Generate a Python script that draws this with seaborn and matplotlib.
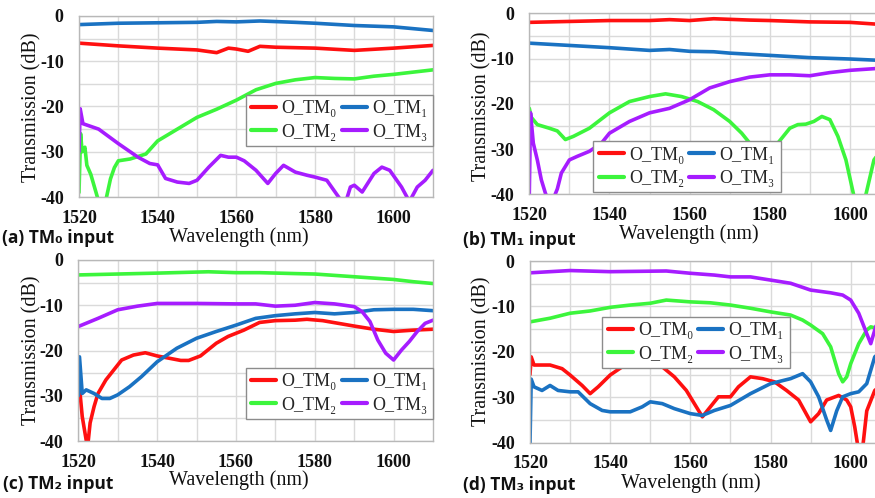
import numpy as np
import pandas as pd
import matplotlib
matplotlib.use("Agg")
import matplotlib.pyplot as plt
from matplotlib.lines import Line2D
import seaborn as sns

# ---------------- data ----------------
modes = ["O_TM0", "O_TM1", "O_TM2", "O_TM3"]
mode_labels = ["O_TM\u2080", "O_TM\u2081", "O_TM\u2082", "O_TM\u2083"]
colors = ["#ff1010", "#1a72c2", "#3cf53c", "#a61cff"]
x_ticks = [1520, 1540, 1560, 1580, 1600]
y_ticks = [-40, -30, -20, -10, 0]
captions = ["(a) TM\u2080 input", "(b) TM\u2081 input", "(c) TM\u2082 input", "(d) TM\u2083 input"]

# panel (a): TM0 input
a_wl_tm0 = [1520, 1530, 1540, 1550, 1555, 1558, 1560, 1563, 1566, 1570, 1580, 1590, 1600, 1610]
a_tm0 = [-6.0, -6.6, -7.1, -7.5, -8.1, -7.1, -7.3, -7.8, -6.7, -6.9, -7.1, -7.6, -7.1, -6.5]
a_wl_tm1 = [1520, 1530, 1540, 1550, 1555, 1560, 1566, 1575, 1580, 1590, 1600, 1605, 1610]
a_tm1 = [-1.9, -1.6, -1.5, -1.4, -1.2, -1.3, -1.1, -1.4, -1.6, -2.1, -2.4, -2.8, -3.2]
a_wl_tm2 = [1520, 1520.4, 1520.8, 1521.5, 1522, 1523, 1524, 1525, 1526, 1527, 1528, 1529, 1530,
            1533, 1537, 1540, 1545, 1550, 1555, 1560, 1565, 1570, 1575, 1580, 1585, 1590, 1595,
            1600, 1605, 1610]
a_tm2 = [-39, -26, -30, -29, -33, -35, -38, -41, -43, -40, -36, -33.5, -32, -31.6, -30.5, -27.6,
         -25, -22.4, -20.6, -18.6, -16.3, -14.9, -14.1, -13.6, -13.8, -13.9, -13.3, -12.9, -12.4,
         -11.9]
a_wl_tm3 = [1520, 1520.3, 1521, 1525, 1530, 1533, 1535, 1538, 1540, 1542, 1545, 1548, 1550, 1553,
            1556, 1558, 1560, 1562, 1565, 1568, 1570, 1572, 1575, 1578, 1580, 1583, 1586, 1587.5,
            1589, 1590, 1592, 1595, 1597, 1599, 1602, 1604, 1606, 1608, 1610]
a_tm3 = [-30, -20.5, -23.8, -25, -28.2, -30, -31.2, -32.6, -32.9, -35.9, -36.7, -37, -36.3, -33.4,
         -30.8, -31.2, -31.2, -32, -34.1, -37, -34.8, -33, -34.5, -35.2, -35.6, -36.3, -40, -42,
         -37.8, -37.4, -38.9, -34.8, -33.4, -34.1, -37.8, -41, -37.8, -36.3, -34.1]

# panel (b): TM1 input
b_wl_tm0 = [1520, 1530, 1540, 1550, 1555, 1560, 1566, 1575, 1580, 1590, 1600, 1605, 1610]
b_tm0 = [-2.0, -1.8, -1.6, -1.6, -1.4, -1.6, -1.2, -1.5, -1.6, -1.9, -2.0, -2.3, -2.6]
b_wl_tm1 = [1520, 1530, 1540, 1550, 1555, 1560, 1566, 1570, 1580, 1590, 1600, 1610]
b_tm1 = [-6.6, -7.1, -7.6, -8.2, -8.0, -8.4, -8.5, -8.8, -9.3, -9.8, -10.1, -10.5]
b_wl_tm2 = [1520, 1520.5, 1522, 1525, 1527, 1529, 1531, 1535, 1540, 1545, 1550, 1554, 1558, 1562,
            1566, 1570, 1573, 1575, 1578, 1580, 1582, 1585, 1587, 1589, 1591, 1593, 1595, 1597,
            1599, 1601, 1602.5, 1604, 1606, 1608, 1610]
b_tm2 = [-21, -23, -24.6, -25.4, -26, -27.9, -27.2, -25.4, -22, -19.5, -18.4, -17.8, -18.4, -19.5,
         -21.3, -23.9, -26.5, -28.7, -30.5, -30.1, -28.7, -25.4, -24.6, -24.5, -23.9, -22.8, -23.5,
         -27.2, -32.4, -40.4, -43, -40, -32.4, -30, -29]
b_wl_tm3 = [1520, 1520.3, 1521, 1522, 1523, 1524, 1525, 1526, 1527, 1528, 1530, 1532, 1535, 1538,
            1540, 1545, 1550, 1555, 1560, 1565, 1570, 1575, 1580, 1585, 1590, 1595, 1600, 1605, 1610]
b_tm3 = [-40, -22, -28.7, -32.4, -36.8, -39.7, -42, -41, -38.8, -35.3, -32.4, -31.6, -30.5, -28.7,
         -26.5, -23.9, -22, -21, -19.1, -16.5, -15.1, -14.1, -13.6, -13.6, -13.8, -13.1, -12.6,
         -12.3, -12.0]

# panel (c): TM2 input
c_wl_tm0 = [1520, 1520.5, 1521, 1522, 1522.4, 1523, 1524, 1525, 1527, 1529, 1531, 1534, 1537, 1540,
            1543, 1546, 1548, 1551, 1555, 1558, 1562, 1566, 1570, 1575, 1578, 1582, 1586, 1590,
            1595, 1600, 1605, 1610]
c_tm0 = [-23, -30, -34.6, -39.8, -41, -36, -32.4, -29.5, -26.5, -24.3, -22.1, -21, -20.5, -21.2,
         -21.7, -22.2, -22.2, -21.2, -18.4, -16.9, -15.5, -13.8, -13.4, -13.3, -13.1, -13.4, -14,
         -14.6, -15.3, -15.8, -15.5, -15.3]
c_wl_tm1 = [1520, 1520.3, 1521, 1522, 1524, 1526, 1528, 1530, 1533, 1536, 1540, 1545, 1550, 1555,
            1560, 1565, 1570, 1575, 1580, 1585, 1590, 1595, 1600, 1605, 1610]
c_tm1 = [-30, -21.4, -29.5, -28.7, -29.5, -30.6, -30.6, -29.8, -28, -25.8, -22.5, -19.5, -17.3,
         -15.8, -14.4, -12.9, -12.3, -11.9, -11.6, -11.9, -11.6, -11, -10.9, -10.9, -11.2]
c_wl_tm2 = [1520, 1530, 1540, 1553, 1560, 1566, 1575, 1580, 1590, 1600, 1605, 1610]
c_tm2 = [-3.3, -3.1, -2.9, -2.6, -2.8, -2.8, -3.0, -3.1, -3.7, -4.3, -4.8, -5.2]
c_wl_tm3 = [1520, 1525, 1530, 1535, 1540, 1550, 1560, 1565, 1570, 1575, 1580, 1585, 1590, 1592,
            1594, 1596, 1598, 1600, 1602, 1604, 1606, 1608, 1610]
c_tm3 = [-14.7, -12.9, -11, -10.2, -9.6, -9.6, -9.7, -9.7, -10.2, -10, -9.4, -9.7, -10.3, -11.4,
         -13.6, -17.7, -20.6, -22.1, -19.9, -18, -15.8, -14, -13.3]

# panel (d): TM3 input
d_wl_tm0 = [1520, 1520.3, 1521, 1525, 1528, 1530, 1533, 1535, 1537, 1540, 1543, 1547, 1550, 1553,
            1556, 1559, 1561, 1563, 1565, 1567, 1570, 1572, 1575, 1578, 1581, 1584, 1587, 1590,
            1592, 1594, 1597, 1599, 1600, 1601, 1602, 1603, 1604, 1606, 1608, 1610]
d_tm0 = [-25, -21.1, -22.9, -22.9, -23.7, -25.1, -27.4, -29.2, -27.7, -25.1, -23.3, -22.9, -22.6,
         -23.3, -25.5, -28.5, -31.4, -34.3, -32.1, -29.9, -29.9, -27.7, -25.5, -25.9, -26.6, -28.5,
         -30.6, -35.4, -33.6, -30.6, -29.6, -30.6, -32.1, -36.5, -42, -41, -33, -28.5, -27, -26]
d_wl_tm1 = [1520, 1520.3, 1521, 1523, 1525, 1527, 1530, 1532, 1535, 1538, 1540, 1545, 1548, 1550,
            1553, 1556, 1560, 1563, 1566, 1570, 1575, 1580, 1585, 1588, 1590, 1592, 1594, 1595,
            1596.5, 1598, 1600, 1602, 1604, 1606, 1608, 1610]
d_tm1 = [-40, -26, -27.7, -28.5, -27.4, -28.5, -28.8, -28.8, -31.4, -32.9, -33.2, -33.2, -32.1,
         -31, -31.4, -32.5, -33.6, -34, -32.9, -31.8, -29.2, -27, -25.9, -24.8, -26.6, -29.9, -35,
         -37.3, -33, -29.9, -29.2, -28.8, -27, -21.1, -19.6, -19]
d_wl_tm2 = [1520, 1525, 1530, 1535, 1540, 1545, 1550, 1554, 1560, 1565, 1570, 1575, 1580, 1585,
            1588, 1590, 1593, 1595, 1597, 1598, 1599, 1600, 1602, 1604, 1605, 1607, 1610]
d_tm2 = [-13.4, -12.6, -11.5, -11, -10.2, -9.7, -9.3, -8.6, -9, -9.2, -9.7, -10.4, -11.2, -11.9,
         -13, -14.1, -16, -18.9, -24.8, -26.6, -25.5, -22.6, -18.2, -15.2, -14.5, -14.9, -15]
d_wl_tm3 = [1520, 1530, 1540, 1554, 1560, 1566, 1570, 1575, 1580, 1585, 1590, 1595, 1598, 1600,
            1602, 1604, 1605, 1606, 1607, 1608, 1610]
d_tm3 = [-2.6, -2.1, -2.35, -2.2, -2.7, -3.1, -3.5, -3.5, -4.2, -4.9, -6.4, -7.0, -7.5, -8.6,
         -11.5, -16, -18.2, -15.2, -12.3, -10.8, -10]

panels = [
    [(a_wl_tm0, a_tm0), (a_wl_tm1, a_tm1), (a_wl_tm2, a_tm2), (a_wl_tm3, a_tm3)],
    [(b_wl_tm0, b_tm0), (b_wl_tm1, b_tm1), (b_wl_tm2, b_tm2), (b_wl_tm3, b_tm3)],
    [(c_wl_tm0, c_tm0), (c_wl_tm1, c_tm1), (c_wl_tm2, c_tm2), (c_wl_tm3, c_tm3)],
    [(d_wl_tm0, d_tm0), (d_wl_tm1, d_tm1), (d_wl_tm2, d_tm2), (d_wl_tm3, d_tm3)],
]

# ---------------- style ----------------
sns.set_theme(style="white")
plt.rcParams["font.family"] = ["Liberation Serif", "DejaVu Serif"]
plt.rcParams["axes.unicode_minus"] = False

W, H = 875, 498
fig = plt.figure(figsize=(W / 100, H / 100), dpi=100)

# axes boxes in pixels: left, top, right, bottom
boxes = [(79, 16, 433, 197), (529.3, 13.3, 890, 194.3),
         (78.3, 260, 433, 441), (530, 261, 890.8, 442.7)]
legend_anchor = [("upper right", (1.0, 0.564)), ("upper left", (0.177, 0.294)),
                 ("upper right", (1.0, 0.403)), ("upper left", (0.2, 0.692))]
ylabel_pos = [(32, 107), (482, 106), (32, 350), (482, 351)]
xlabel_pos = [(239, 242), (689, 239), (239, 485), (691, 488)]
caption_pos = [(2, 243), (463, 245), (3, 489), (463, 490)]

palette = dict(zip(modes, colors))

for i, series in enumerate(panels):
    l, t, r, b = boxes[i]
    ax = fig.add_axes([l / W, 1 - b / H, (r - l) / W, (b - t) / H])
    frames = []
    for m, (wl, tr) in zip(modes, series):
        frames.append(pd.DataFrame({"wl": wl, "T": tr, "mode": m}))
    df = pd.concat(frames, ignore_index=True)
    sns.lineplot(data=df, x="wl", y="T", hue="mode", hue_order=modes, palette=palette,
                 estimator=None, linewidth=2.6, legend=False, ax=ax)
    ax.set_xlim(1520, 1610)
    ax.set_ylim(-40, 0)
    ax.set_xticks(x_ticks)
    ax.set_xticks([1530, 1550, 1570, 1590], minor=True)
    ax.set_yticks(y_ticks)
    ax.set_yticks([-35, -25, -15, -5], minor=True)
    ax.set_yticklabels([str(v) for v in y_ticks])
    ax.grid(which="both", color="#dadada", linewidth=1.0)
    ax.set_axisbelow(True)
    ax.tick_params(which="both", length=0)
    ax.tick_params(axis="x", pad=9)
    ax.tick_params(axis="y", pad=11)
    for lab in ax.get_xticklabels() + ax.get_yticklabels():
        lab.set_fontsize(13)
        lab.set_fontweight("bold")
        lab.set_color("#111111")
    for sp in ax.spines.values():
        sp.set_color("#b8b8b8")
        sp.set_linewidth(1.0)
    ax.set_xlabel("")
    ax.set_ylabel("")

    handles = [Line2D([0], [0], color=c, lw=3) for c in colors]
    order = [0, 2, 1, 3]
    loc, anchor = legend_anchor[i]
    leg = ax.legend([handles[k] for k in order], [mode_labels[k] for k in order],
                    ncol=2, loc=loc, bbox_to_anchor=anchor, borderaxespad=0,
                    frameon=True, fancybox=False, fontsize=13,
                    handlelength=1.4, handletextpad=0.3, columnspacing=0.25,
                    labelspacing=0.35, borderpad=0.3)
    leg.get_frame().set_edgecolor("#8c8c8c")
    leg.get_frame().set_linewidth(1.0)
    leg.get_frame().set_facecolor("white")
    leg.get_frame().set_alpha(1.0)

    yx, yy = ylabel_pos[i]
    fig.text(yx / W, 1 - yy / H, "Transmission (dB)", rotation=90, ha="center", va="center",
             fontsize=14.5, color="#111111")
    xx, xy = xlabel_pos[i]
    fig.text(xx / W, 1 - xy / H, "Wavelength (nm)", ha="center", va="baseline",
             fontsize=14.5, color="#111111")
    cx, cy = caption_pos[i]
    fig.text(cx / W, 1 - cy / H, captions[i], ha="left", va="baseline", fontsize=12.5,
             fontweight="bold", family=["Open Sans", "DejaVu Sans"], color="#111111")

fig.savefig("out.png", dpi=100)
